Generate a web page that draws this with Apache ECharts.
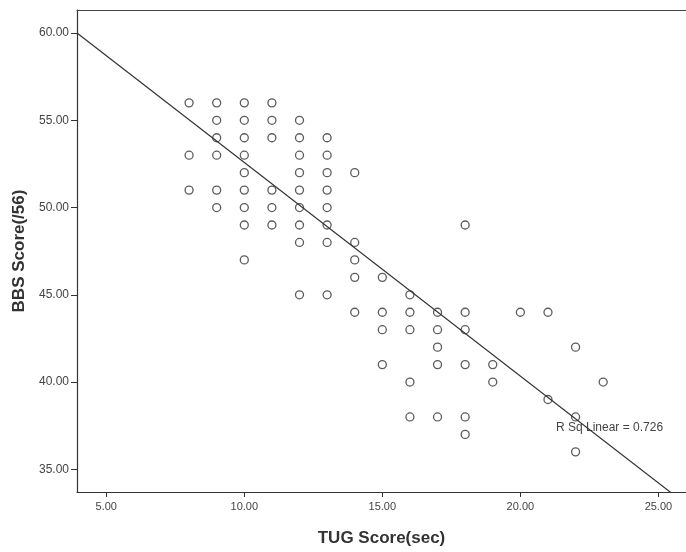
<!DOCTYPE html>
<html>
<head>
<meta charset="utf-8">
<script src="https://cdn.jsdelivr.net/npm/echarts@6/dist/echarts.min.js"></script>
<style>
html,body{margin:0;padding:0;background:#fff;overflow:hidden;}
#chart{width:686px;height:552px;}
</style>
</head>
<body>
<div id="chart"></div>
<script>
// TUG Score (sec) for each subject
var tugScores = [
  8, 9, 10, 11,
  9, 10, 11, 12,
  9, 10, 11, 12, 13,
  8, 9, 10, 12, 13,
  10, 12, 13, 14,
  8, 9, 10, 11, 12, 13,
  9, 10, 11, 12, 13,
  10, 11, 12, 13, 18,
  12, 13, 14,
  10, 14,
  14, 15,
  12, 13, 16,
  14, 15, 16, 17, 18, 20, 21,
  15, 16, 17, 18,
  17, 22,
  15, 17, 18, 19,
  16, 19, 23,
  21,
  16, 17, 18, 22,
  18,
  22
];
// BBS Score (/56) for each subject
var bbsScores = [
  56, 56, 56, 56,
  55, 55, 55, 55,
  54, 54, 54, 54, 54,
  53, 53, 53, 53, 53,
  52, 52, 52, 52,
  51, 51, 51, 51, 51, 51,
  50, 50, 50, 50, 50,
  49, 49, 49, 49, 49,
  48, 48, 48,
  47, 47,
  46, 46,
  45, 45, 45,
  44, 44, 44, 44, 44, 44, 44,
  43, 43, 43, 43,
  42, 42,
  41, 41, 41, 41,
  40, 40, 40,
  39,
  38, 38, 38, 38,
  37,
  36
];
// Linear fit
var fitIntercept = 64.82;
var fitSlope = -1.224;
var fitX = [3.94, 25.5];
var xTicks = [5, 10, 15, 20, 25];
var yTicks = [35, 40, 45, 50, 55, 60];
var rSqLabel = 'R Sq Linear = 0.726';

var points = tugScores.map(function (t, i) { return [t, bbsScores[i]]; });
var fitLine = fitX.map(function (x) { return [x, fitIntercept + fitSlope * x]; });

var chart = echarts.init(document.getElementById('chart'), null, {renderer: 'canvas'});
chart.setOption({
  animation: false,
  backgroundColor: '#fff',
  grid: {
    left: 77, right: 0, top: 10, bottom: 60, show: false
  },
  xAxis: [{
    type: 'value', min: 3.94, max: 26.0,
    name: 'TUG Score(sec)', nameLocation: 'middle', nameGap: 38,
    nameTextStyle: {fontFamily: 'Liberation Sans, Arial, sans-serif', fontWeight: 'bold', fontSize: 17, color: '#333'},
    axisLine: {show: true, lineStyle: {color: '#333', width: 1.2}},
    axisTick: {show: true, length: 5, inside: false, customValues: xTicks, lineStyle: {color: '#333'}},
    axisLabel: {customValues: xTicks, margin: 9, fontFamily: 'Liberation Sans, Arial, sans-serif', fontSize: 11, color: '#444',
      formatter: function (v) { return v.toFixed(2); }},
    splitLine: {show: false}
  }, {
    type: 'value', position: 'top', min: 3.94, max: 26.0,
    axisLine: {show: true, lineStyle: {color: '#444', width: 1.2}},
    axisTick: {show: false}, axisLabel: {show: false}, splitLine: {show: false}
  }],
  yAxis: {
    type: 'value', min: 33.7, max: 61.32,
    name: 'BBS Score(/56)', nameLocation: 'middle', nameGap: 48, nameRotate: 90,
    nameTextStyle: {fontFamily: 'Liberation Sans, Arial, sans-serif', fontWeight: 'bold', fontSize: 17, color: '#333'},
    axisLine: {show: true, lineStyle: {color: '#333', width: 1.2}},
    axisTick: {show: true, length: 6, inside: false, customValues: yTicks, lineStyle: {color: '#333'}},
    axisLabel: {customValues: yTicks, margin: 8, fontFamily: 'Liberation Sans, Arial, sans-serif', fontSize: 12, color: '#444',
      formatter: function (v) { return v.toFixed(2); }},
    splitLine: {show: false}
  },
  series: [
    {
      type: 'scatter', data: points, symbol: 'circle', symbolSize: 8,
      itemStyle: {color: 'rgba(255,255,255,0)', borderColor: '#333', borderWidth: 1.3},
      z: 3
    },
    {
      type: 'line', data: fitLine, symbol: 'none', clip: true,
      lineStyle: {color: '#333', width: 1.2}, z: 2
    }
  ],
  graphic: [
    {type: 'text', left: 556, top: 422,
     style: {text: rSqLabel, font: '12px "Liberation Sans", Arial, sans-serif', fill: '#444'}}
  ]
});
</script>
</body>
</html>
